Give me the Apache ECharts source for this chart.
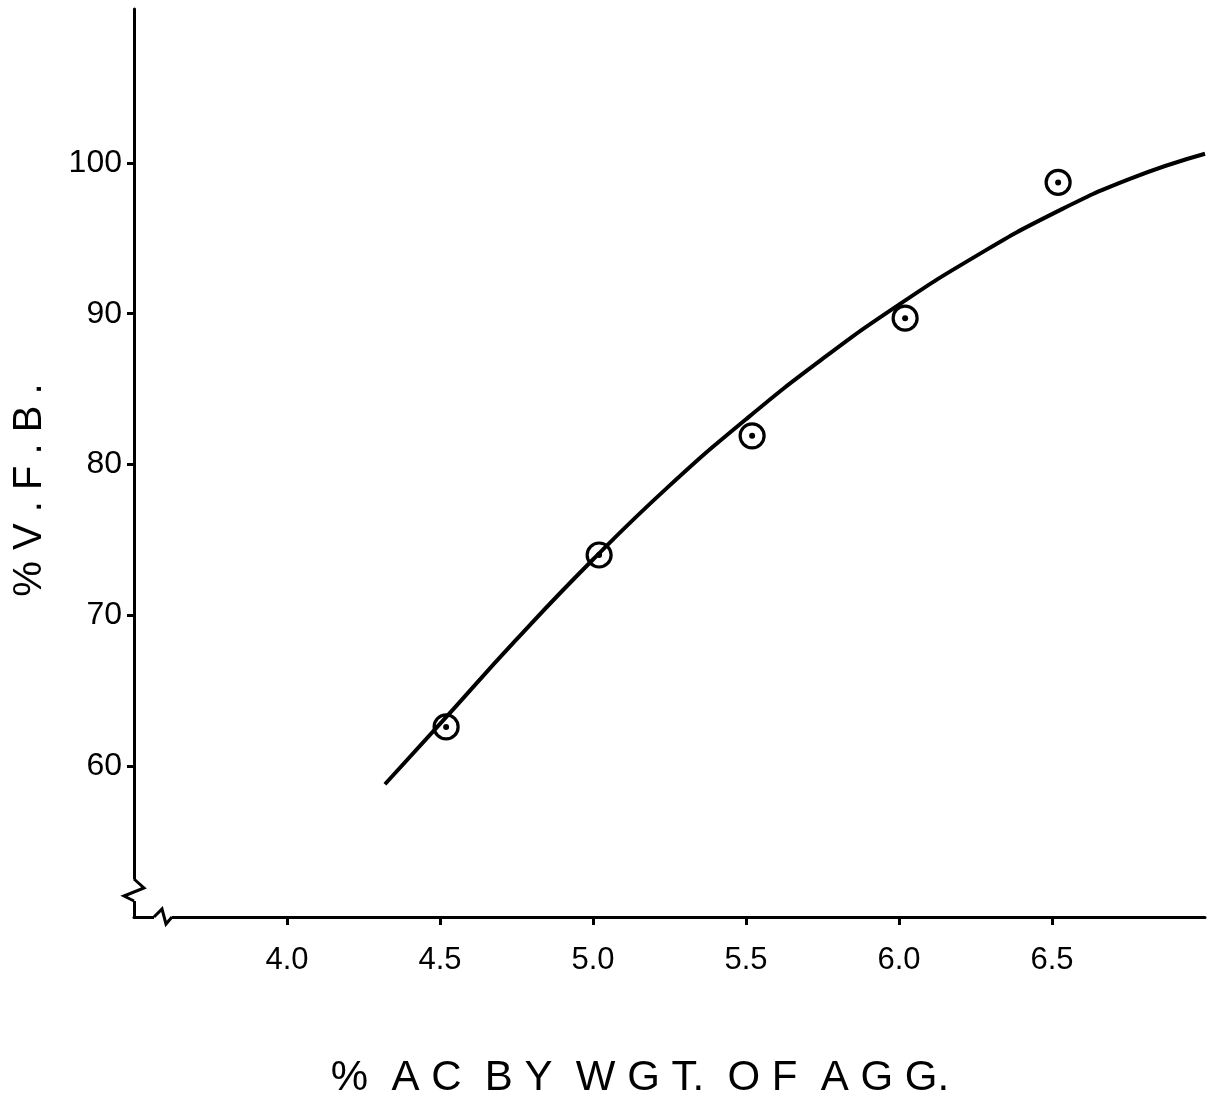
<!DOCTYPE html>
<html><head><meta charset="utf-8">
<script src="https://cdn.jsdelivr.net/npm/echarts@6/dist/echarts.min.js"></script>
<style>html,body{margin:0;padding:0;background:#fff}#c{width:1222px;height:1102px}</style>
</head><body><div id="c"></div>
<script>
// Data
const pointX = [4.52, 5.02, 5.52, 6.02, 6.52];
const pointY = [62.6, 74.0, 81.9, 89.7, 98.7];
const curveX = [4.32, 4.5, 4.75, 5.0, 5.25, 5.5, 5.75, 6.0, 6.25, 6.5, 6.75, 7.0];
const curveY = [58.8, 62.8, 68.4, 73.7, 78.6, 83.0, 87.0, 90.6, 93.8, 96.6, 98.9, 100.6];
const xTickValues = [4.0, 4.5, 5.0, 5.5, 6.0, 6.5];
const yTickValues = [60, 70, 80, 90, 100];
const xTitle = '%  A C  B Y  W G T.  O F  A G G.';
const yTitle = '% V . F . B .';

const FONT = '"Liberation Sans", Arial, sans-serif';
const chart = echarts.init(document.getElementById('c'), null, {renderer: 'canvas'});
const pts = pointX.map((x, i) => [x, pointY[i]]);
const curve = curveX.map((x, i) => [x, curveY[i]]);

chart.setOption({
  backgroundColor: '#fff',
  animation: false,
  grid: {left: 134, right: 17, top: 9, bottom: 185},
  xAxis: {
    type: 'value', min: 3.5, max: 7.0, interval: 0.5,
    axisLine: {lineStyle: {color: '#000', width: 3}},
    axisTick: {show: true, length: 8, lineStyle: {color: '#000', width: 3}, customValues: xTickValues},
    axisLabel: {customValues: xTickValues, margin: 28, color: '#000', fontSize: 31, fontFamily: FONT,
      formatter: v => v.toFixed(1)},
    splitLine: {show: false}
  },
  yAxis: {
    type: 'value', min: 50, max: 110.2, interval: 10,
    axisLine: {lineStyle: {color: '#000', width: 3}},
    axisTick: {show: true, length: 7, lineStyle: {color: '#000', width: 3}, customValues: yTickValues},
    axisLabel: {customValues: yTickValues, margin: 12, color: '#000', fontSize: 32, fontFamily: FONT},
    splitLine: {show: false}
  },
  series: [
    {type: 'line', data: curve, smooth: 0.5, symbol: 'none', lineStyle: {color: '#000', width: 4}, z: 2},
    {type: 'scatter', data: pts, symbol: 'circle', symbolSize: 24,
      itemStyle: {color: 'rgba(0,0,0,0)', borderColor: '#000', borderWidth: 3.2, opacity: 1}, z: 3},
    {type: 'scatter', data: pts, symbol: 'circle', symbolSize: 6, itemStyle: {color: '#000', opacity: 1}, z: 4}
  ]
});

// decorations: axis titles and axis-break zigzags, anchored to the axis origin
const o = chart.convertToPixel({gridIndex: 0}, [3.5, 50]);
const ox = o[0], oy = o[1];
chart.setOption({
  graphic: [
    {type: 'text', x: 640, y: 1078, style: {text: xTitle, font: '42px ' + FONT, fill: '#000', align: 'center', verticalAlign: 'middle'}},
    {type: 'text', x: 30, y: 490, rotation: Math.PI / 2, style: {text: yTitle, font: '40px ' + FONT, fill: '#000', align: 'center', verticalAlign: 'middle'}},
    {type: 'rect', shape: {x: ox - 3, y: oy - 38, width: 6, height: 22}, style: {fill: '#fff'}, z: 10},
    {type: 'polyline', shape: {points: [[ox, oy - 38], [ox + 10, oy - 29], [ox - 10, oy - 21], [ox, oy - 16]]},
      style: {stroke: '#000', lineWidth: 3, fill: null}, z: 11},
    {type: 'rect', shape: {x: ox + 20, y: oy - 3, width: 18, height: 6}, style: {fill: '#fff'}, z: 10},
    {type: 'polyline', shape: {points: [[ox + 20, oy], [ox + 28, oy - 8], [ox + 32, oy + 7], [ox + 38, oy]]},
      style: {stroke: '#000', lineWidth: 3, fill: null}, z: 11}
  ]
});
</script></body></html>
